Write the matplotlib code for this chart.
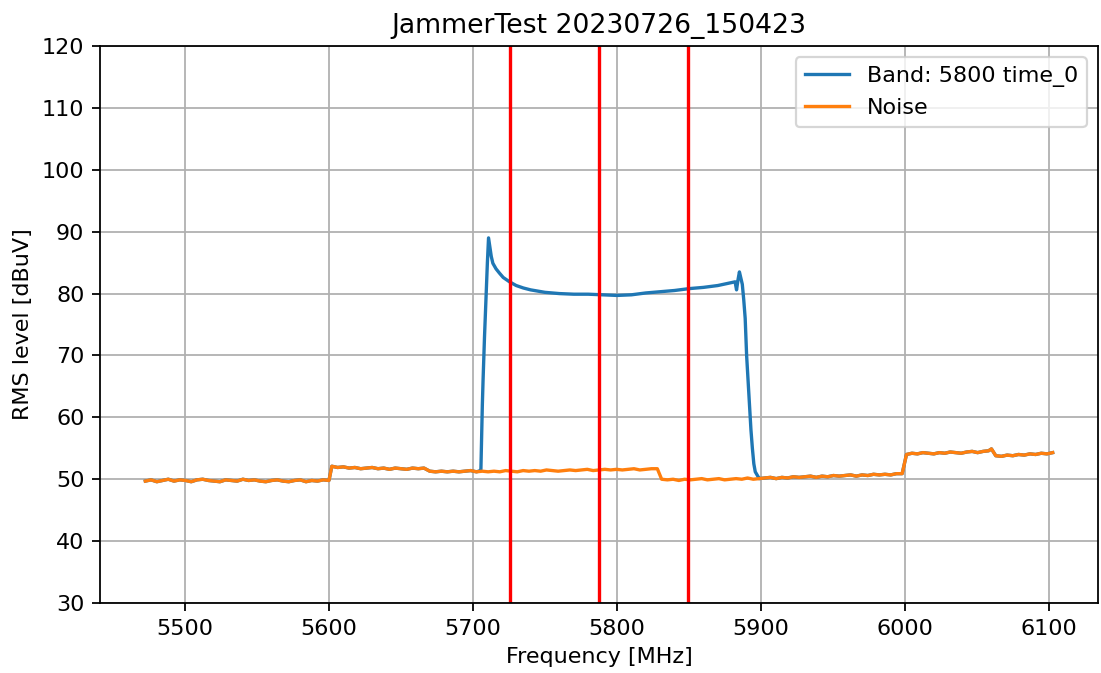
import numpy as np
import matplotlib
matplotlib.use("Agg")
import matplotlib.pyplot as plt

title = "JammerTest 20230726_150423"
band_label = "Band: 5800 time_0"
noise_label = "Noise"

# Noise trace, piecewise segments (start MHz, end MHz, levels dBuV)
seg_start = [5472.5, 5602, 5670, 5831, 6001, 6060, 6063]
seg_end = [5600, 5666, 5828, 5998, 6058, 6060, 6102.5]
noise_a = [49.7, 49.9, 49.6, 49.8, 50.0, 49.7, 49.9, 49.8, 49.6, 49.9, 50.0, 49.8,
           49.7, 49.6, 49.9, 49.8, 49.7, 50.0, 49.8, 49.9, 49.7, 49.6, 49.8, 49.9,
           49.7, 49.6, 49.8, 49.9, 49.6, 49.8, 49.7, 49.9, 49.8]
noise_b = [52.1, 51.9, 52.0, 51.8, 51.9, 51.7, 51.8, 51.9, 51.7, 51.8, 51.6, 51.8,
           51.7, 51.6, 51.8, 51.7, 51.8]
noise_c = [51.3, 51.2, 51.3, 51.2, 51.3, 51.2, 51.3, 51.4, 51.2, 51.3, 51.2, 51.3,
           51.2, 51.4, 51.3, 51.2, 51.4, 51.3, 51.4, 51.3, 51.5, 51.4, 51.3, 51.4,
           51.5, 51.4, 51.5, 51.6, 51.4, 51.5, 51.6, 51.5, 51.6, 51.5, 51.6, 51.7,
           51.5, 51.6, 51.7, 51.7]
noise_d = [50.0, 49.9, 50.0, 49.8, 50.0, 49.9, 50.0, 50.1, 49.9, 50.0,
           50.1, 49.9, 50.0, 50.1, 50.0, 50.2, 50.0, 50.1, 50.2, 50.3,
           50.1, 50.3, 50.2, 50.4, 50.3, 50.4, 50.5, 50.3, 50.5, 50.4,
           50.6, 50.5, 50.6, 50.7, 50.5, 50.7, 50.6, 50.8, 50.7, 50.8,
           50.7, 50.9, 50.9]
noise_e = [54.0, 54.2, 54.1, 54.3, 54.2, 54.1, 54.3, 54.2, 54.4, 54.3, 54.2, 54.4,
           54.5, 54.3, 54.5, 54.6]
noise_spike = [54.9]
noise_f = [53.8, 53.7, 53.9, 53.8, 54.0, 53.9, 54.1, 54.0, 54.2, 54.1, 54.3]
noise_segs = [noise_a, noise_b, noise_c, noise_d, noise_e, noise_spike, noise_f]

# Jammer band portion of the measured trace
band_freq = [5704, 5705, 5705.5, 5706, 5706.5, 5707, 5708, 5709, 5710, 5710.8,
             5712.7, 5713.8, 5716, 5718.4, 5721, 5725.4, 5730, 5735, 5740, 5745,
             5750, 5755, 5760, 5770, 5780, 5790, 5800, 5810, 5820, 5830, 5840,
             5850, 5860, 5870, 5876, 5880, 5882, 5883, 5884, 5885, 5886, 5887,
             5888, 5889, 5890, 5891, 5892, 5893, 5894, 5895, 5896, 5898]
band_level = [51.3, 51.4, 51.6, 57.0, 62.0, 66.0, 73.0, 79.0, 85.0, 89.0,
              86.0, 84.9, 84.0, 83.3, 82.6, 81.9, 81.3, 80.9, 80.6, 80.4,
              80.2, 80.1, 80.0, 79.9, 79.9, 79.8, 79.7, 79.8, 80.1, 80.3, 80.5,
              80.8, 81.0, 81.3, 81.6, 81.8, 81.9, 80.6, 82.2, 83.5, 82.5, 81.5,
              79.0, 76.0, 70.0, 66.0, 62.0, 58.0, 55.0, 52.5, 51.2, 50.4]

marker_freqs = [5726, 5787.5, 5849.5]

# ---- assemble traces ----
noise_freq = np.concatenate([np.linspace(s, e, len(v)) for s, e, v in zip(seg_start, seg_end, noise_segs)])
noise_level = np.concatenate([np.asarray(v, float) for v in noise_segs])

lo = noise_freq < band_freq[0]
hi = noise_freq > band_freq[-1]
meas_freq = np.concatenate([noise_freq[lo], band_freq, noise_freq[hi]])
meas_level = np.concatenate([noise_level[lo], band_level, noise_level[hi]])

dpi = 160
fig = plt.figure(figsize=(1101 / dpi, 673 / dpi), dpi=dpi)
ax = fig.add_subplot(111)
fig.subplots_adjust(left=0.0908, right=0.9973, top=0.9316, bottom=0.104)

ax.plot(meas_freq, meas_level, color="#1f77b4", lw=1.5, label=band_label)
ax.plot(noise_freq, noise_level, color="#ff7f0e", lw=1.5, label=noise_label)
for f in marker_freqs:
    ax.axvline(f, color="red", lw=1.5)

ax.set_ylim(30, 120)
ax.set_xticks([5500, 5600, 5700, 5800, 5900, 6000, 6100])
ax.set_yticks(np.arange(30, 121, 10))
ax.grid(True)
ax.set_title(title)
ax.set_xlabel("Frequency [MHz]")
ax.set_ylabel("RMS level [dBuV]")
ax.legend(loc="upper right")

fig.savefig("out.png", dpi=dpi)
